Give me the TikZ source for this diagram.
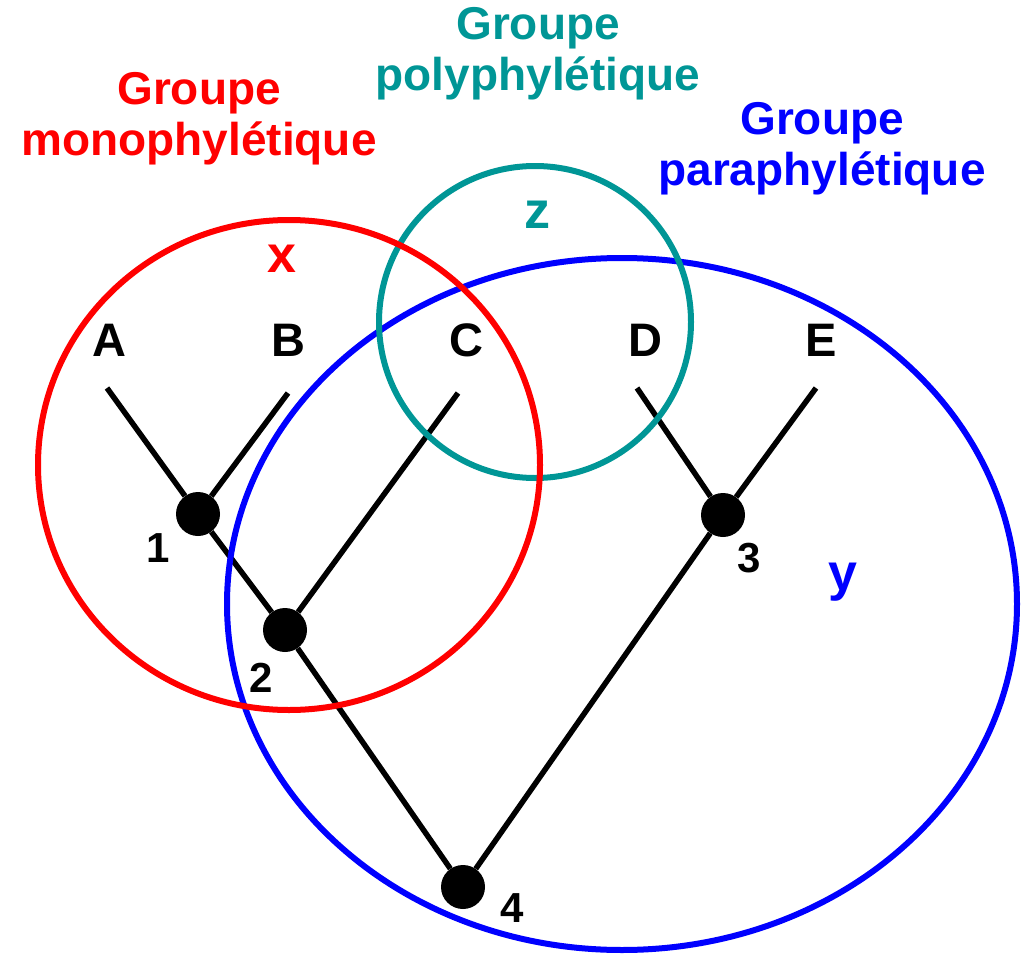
\documentclass[tikz,border=0pt]{standalone}
\usepackage{fontspec}
\setmainfont{Liberation Sans}
\definecolor{myred}{RGB}{255,0,0}
\definecolor{myteal}{RGB}{0,150,150}
\definecolor{myblue}{RGB}{0,0,255}
\begin{document}
\begin{tikzpicture}[x=1pt,y=-1pt,
  branch/.style={line width=5.5pt,black},
  dot/.style={circle,fill=black,inner sep=0pt,minimum size=44pt},
  leaf/.style={font=\fontsize{47}{50}\selectfont\bfseries,anchor=base,inner sep=0pt},
  num/.style={font=\fontsize{42}{46}\selectfont\bfseries,anchor=base,inner sep=0pt},
  setlbl/.style={font=\fontsize{52}{56}\selectfont\bfseries,anchor=base,inner sep=0pt},
  title/.style={font=\fontsize{46}{51}\selectfont\bfseries,align=center,anchor=north,inner sep=0pt},
  setline/.style={line width=6pt}]
\useasboundingbox (0,0) rectangle (1026,958);

% leaves
\node[leaf] (A) at (109,356) {A};
\node[leaf] (B) at (288,356) {B};
\node[leaf] (C) at (466,356) {C};
\node[leaf] (D) at (645,356) {D};
\node[leaf] (E) at (821,356) {E};
\coordinate (tA) at (107,388);
\coordinate (tB) at (288,393);
\coordinate (tC) at (458,393);
\coordinate (tD) at (637,388);
\coordinate (tE) at (816,388);

% internal nodes
\node[dot] (n1) at (198,514) {};
\node[dot] (n2) at (285,630) {};
\node[dot] (n3) at (723,515) {};
\node[dot] (n4) at (463,887) {};

\draw[branch] (tA) -- (n1);
\draw[branch] (tB) -- (n1);
\draw[branch] (n1) -- (n2);
\draw[branch] (tC) -- (n2);
\draw[branch] (n2) -- (n4);
\draw[branch] (tD) -- (n3);
\draw[branch] (tE) -- (n3);
\draw[branch] (n3) -- (n4);

\node[num] (l1) at (158,562) {1};
\node[num] (l2) at (261,692) {2};
\node[num] (l3) at (749,572) {3};
\node[num] (l4) at (512,922) {4};

% groups
\draw[myblue,setline] (622,604) ellipse [x radius=395pt, y radius=346pt];
\draw[myteal,setline] (535,322) circle [radius=156pt];
\draw[myred,setline] (289,465) ellipse [x radius=251pt, y radius=245pt];

\node[setlbl,text=myred] (lx) at (282,272) {x};
\node[setlbl,text=myteal] (lz) at (537,228) {z};
\node[setlbl,text=myblue] (ly) at (843,590) {y};

\node[title,text=myred] (tmono) at (199,72) {Groupe\\monophylétique};
\node[title,text=myteal] (tpoly) at (538,7) {Groupe\\polyphylétique};
\node[title,text=myblue] (tpara) at (822,102) {Groupe\\paraphylétique};
\end{tikzpicture}
\end{document}
